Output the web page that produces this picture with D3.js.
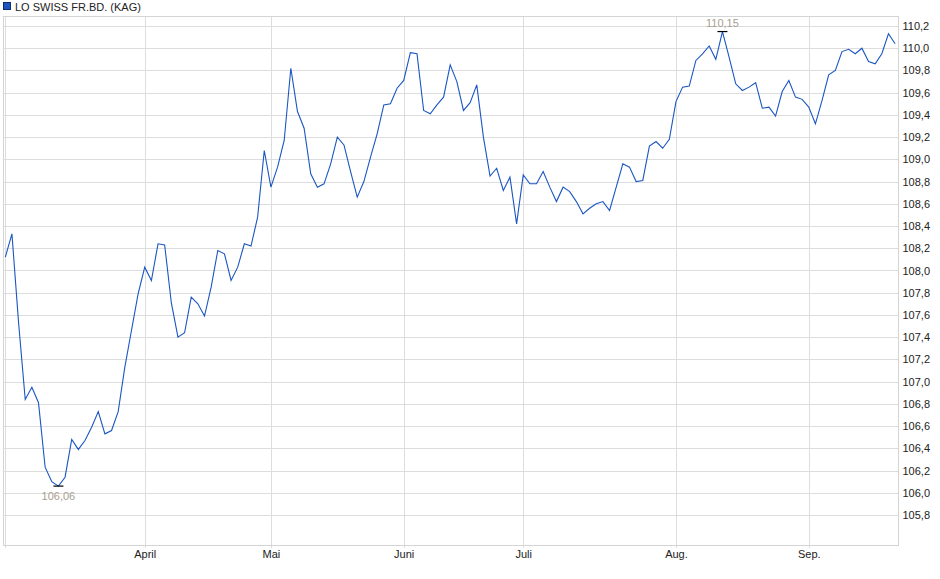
<!DOCTYPE html>
<html>
<head>
<meta charset="utf-8">
<script src="https://cdn.jsdelivr.net/npm/d3@7"></script>
<style>
  body { margin: 0; background: #fff; }
  svg { font-family: "Liberation Sans", Arial, sans-serif; }
  .grid line { stroke: #dddddd; shape-rendering: crispEdges; }
  .axis text { fill: #222; font-size: 11px; }
  .axis path, .axis line { stroke: #d4d4d4; shape-rendering: crispEdges; }
</style>
</head>
<body>
<svg id="chart" width="940" height="579"></svg>
<script>
// series name
var seriesName = "LO SWISS FR.BD. (KAG)";

// daily prices, one per trading day
var prices = [
   108.12, 108.33, 107.53, 106.84, 106.95, 106.81, 106.23, 106.10, 106.06, 106.14,
   106.48, 106.39, 106.47, 106.59, 106.73, 106.53, 106.56, 106.73, 107.13, 107.46,
   107.79, 108.03, 107.91, 108.24, 108.23, 107.71, 107.40, 107.44, 107.76, 107.70,
   107.59, 107.85, 108.18, 108.15, 107.91, 108.03, 108.24, 108.22, 108.48, 109.08,
   108.75, 108.93, 109.17, 109.82, 109.43, 109.28, 108.87, 108.75, 108.78, 108.96,
   109.20, 109.13, 108.89, 108.66, 108.80, 109.02, 109.23, 109.49, 109.50, 109.64,
   109.71, 109.96, 109.95, 109.44, 109.41, 109.49, 109.56, 109.85, 109.70, 109.44,
   109.51, 109.67, 109.20, 108.85, 108.92, 108.72, 108.84, 108.42, 108.86, 108.78,
   108.78, 108.89, 108.75, 108.62, 108.75, 108.71, 108.62, 108.51, 108.56, 108.60,
   108.62, 108.54, 108.75, 108.96, 108.93, 108.80, 108.81, 109.12, 109.16, 109.10,
   109.18, 109.52, 109.65, 109.66, 109.89, 109.95, 110.02, 109.90, 110.15, 109.92,
   109.68, 109.62, 109.65, 109.69, 109.46, 109.47, 109.39, 109.61, 109.71, 109.56,
   109.54, 109.47, 109.32, 109.53, 109.76, 109.80, 109.97, 109.99, 109.95, 110.00,
   109.88, 109.86, 109.95, 110.13, 110.04
];

// first trading day of each month (index into prices) and its label
var monthIdx = [0, 21, 40, 60, 78, 101, 121];
var monthLabels = ["", "April", "Mai", "Juni", "Juli", "Aug.", "Sep."];

// y axis ticks
var yTicks = [105.8, 106.0, 106.2, 106.4, 106.6, 106.8, 107.0, 107.2, 107.4, 107.6,
              107.8, 108.0, 108.2, 108.4, 108.6, 108.8, 109.0, 109.2, 109.4, 109.6,
              109.8, 110.0, 110.2];

var svg = d3.select("#chart");
var plot = {left: 3, top: 16, right: 898, bottom: 545};

var x = d3.scaleLinear()
   .domain([0, prices.length - 1])
   .range([5.3, 895.1]);

var y = d3.scaleLinear()
   .domain([105.53, 110.29])
   .range([plot.bottom, plot.top]);

var fmt = function (v) { return d3.format(".1f")(v).replace(".", ","); };
var fmt2 = function (v) { return d3.format(".2f")(v).replace(".", ","); };

// horizontal grid
svg.append("g")
   .attr("class", "grid")
   .selectAll("line")
   .data(yTicks)
   .join("line")
   .attr("x1", plot.left)
   .attr("x2", plot.right)
   .attr("y1", function (d) { return Math.round(y(d)) + 0.5; })
   .attr("y2", function (d) { return Math.round(y(d)) + 0.5; });

// vertical grid
svg.append("g")
   .attr("class", "grid")
   .selectAll("line")
   .data(monthIdx)
   .join("line")
   .attr("x1", function (d) { return Math.round(x(d)) + 0.5; })
   .attr("x2", function (d) { return Math.round(x(d)) + 0.5; })
   .attr("y1", plot.top)
   .attr("y2", plot.bottom + 3);

// frame
svg.append("rect")
   .attr("x", plot.left + 0.5)
   .attr("y", plot.top + 0.5)
   .attr("width", plot.right - plot.left)
   .attr("height", plot.bottom - plot.top)
   .attr("fill", "none")
   .attr("stroke", "#d4d4d4")
   .attr("shape-rendering", "crispEdges");

// right axis
var yAxis = svg.append("g")
   .attr("class", "axis")
   .attr("transform", "translate(" + (plot.right + 0.5) + ",0)")
   .call(d3.axisRight(y).tickValues(yTicks).tickFormat(fmt).tickSize(0).tickPadding(4));
yAxis.select(".domain").remove();

// bottom axis
var xAxis = svg.append("g")
   .attr("class", "axis")
   .attr("transform", "translate(0," + (plot.bottom + 0.5) + ")")
   .call(d3.axisBottom(x).tickValues(monthIdx)
      .tickFormat(function (d, i) { return monthLabels[i]; })
      .tickSize(0).tickPadding(5));
xAxis.select(".domain").remove();

// price line
var line = d3.line()
   .x(function (d, i) { return x(i); })
   .y(function (d) { return y(d); });

svg.append("path")
   .datum(prices)
   .attr("fill", "none")
   .attr("stroke", "#1a56c2")
   .attr("stroke-width", 1.1)
   .attr("d", line);

// min / max markers
var minI = d3.minIndex(prices), maxI = d3.maxIndex(prices);
var marks = [
   {i: minI, v: prices[minI], dy: 14},
   {i: maxI, v: prices[maxI], dy: -5}
];
var mg = svg.append("g").selectAll("g").data(marks).join("g");
mg.append("line")
   .attr("x1", function (d) { return x(d.i) - 5; })
   .attr("x2", function (d) { return x(d.i) + 5; })
   .attr("y1", function (d) { return y(d.v); })
   .attr("y2", function (d) { return y(d.v); })
   .attr("stroke", "#000")
   .attr("stroke-width", 1.2);
mg.append("text")
   .attr("x", function (d) { return x(d.i); })
   .attr("y", function (d) { return y(d.v) + d.dy; })
   .attr("text-anchor", "middle")
   .attr("font-size", "11px")
   .attr("fill", "#a89e90")
   .text(function (d) { return fmt2(d.v); });

// legend
svg.append("rect")
   .attr("x", 3.5).attr("y", 2.5)
   .attr("width", 7).attr("height", 7)
   .attr("fill", "#1a56c2")
   .attr("stroke", "#0d2d6b");
svg.append("text")
   .attr("x", 15)
   .attr("y", 10.5)
   .attr("font-size", "11px")
   .attr("fill", "#222")
   .text(seriesName);
</script>
</body>
</html>
